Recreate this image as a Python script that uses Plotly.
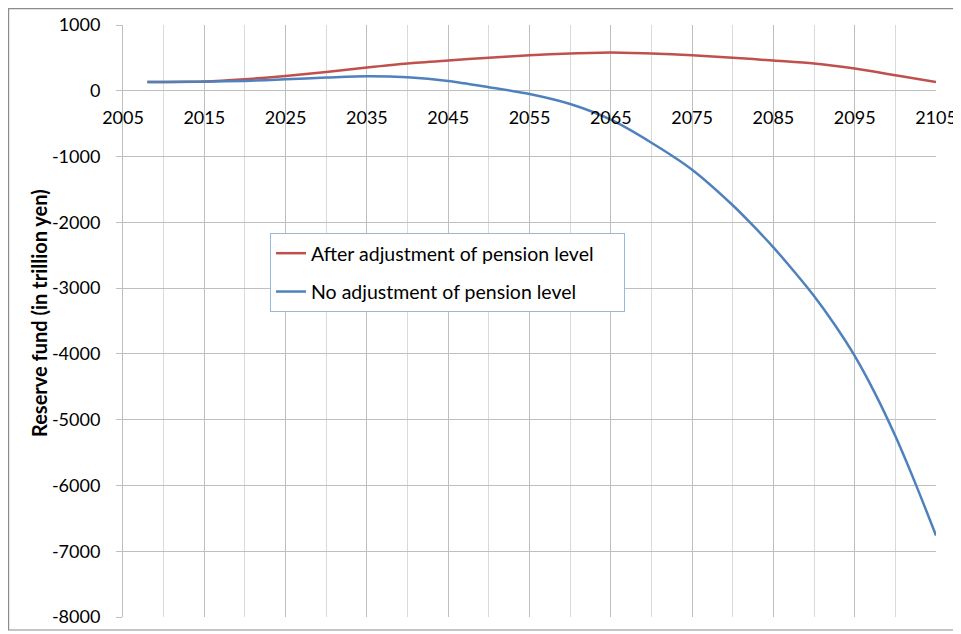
import plotly.graph_objects as go

# ---- data ----
years_after = [2008, 2010, 2015, 2020, 2025, 2030, 2035, 2040, 2045, 2050, 2055,
               2060, 2065, 2070, 2075, 2080, 2085, 2090, 2095, 2100, 2105]
fund_after = [134, 134, 140, 175, 225, 286, 353, 414, 460, 503, 540,
              566, 581, 566, 540, 503, 459, 414, 338, 236, 134]

years_none = [2008, 2010, 2015, 2020, 2025, 2030, 2035, 2040, 2045, 2050, 2055,
              2060, 2065, 2070, 2075, 2080, 2082.5, 2085, 2087.5, 2090, 2092.5,
              2095, 2097.5, 2100, 2102.5, 2105]
fund_none = [134, 134, 138, 150, 175, 200, 220, 205, 150, 55, -50,
             -202, -440, -790, -1200, -1740, -2050, -2380, -2740, -3120, -3550,
             -4030, -4600, -5250, -5980, -6760]

series_names = ["After adjustment of pension level", "No adjustment of pension level"]
x_ticks = list(range(2005, 2106, 10))
y_ticks = list(range(-8000, 1001, 1000))
y_title = "Reserve fund (in trillion yen)"

FONT = "Lato, 'Open Sans', sans-serif"
PAD = "\u00a0" * 5  # right padding inside the legend box

fig = go.Figure()
fig.add_trace(go.Scatter(x=years_after, y=fund_after, mode="lines", name=series_names[0] + PAD,
                         line=dict(color="#C0504D", width=2.5, shape="spline", smoothing=0.8),
                         legendgroup="a"))
fig.add_trace(go.Scatter(x=years_none, y=fund_none, mode="lines", name=series_names[1] + PAD,
                         line=dict(color="#4F81BD", width=2.5, shape="spline", smoothing=0.8),
                         legendgroup="b"))

# the page places the figure 8px from the window's top-left corner
OFF = 8
W, H = 961 - OFF, 634 - OFF
L, R, T, B = 123 - OFF, 936 - OFF, 25 - OFF, 617 - OFF
pw, ph = R - L, B - T

def px_x(x):
    return (x - OFF - L) / pw

def px_y(y):
    return (B - (y - OFF)) / ph

fig.update_layout(
    width=W, height=H,
    margin=dict(l=L, r=W - R, t=T, b=H - B, pad=0, autoexpand=False),
    paper_bgcolor="white", plot_bgcolor="white",
    font=dict(family=FONT, size=18, color="#000000"),
    showlegend=True,
    legend=dict(x=px_x(270), y=px_y(233), xanchor="left", yanchor="top",
                bordercolor="#9BB7D9", borderwidth=1, bgcolor="white",
                font=dict(family=FONT, size=19.5, color="#000000"),
                tracegroupgap=10, itemwidth=30),
    xaxis=dict(range=[2005, 2105], tickvals=x_ticks, ticktext=[str(v) for v in x_ticks],
               showgrid=True, gridcolor="#BFBFBF", gridwidth=1,
               minor=dict(dtick=5, tick0=2005, showgrid=True, gridcolor="#D9D9D9", gridwidth=1),
               anchor="free", position=8 / 9, showline=False, zeroline=False,
               ticks="", ticklabelstandoff=14, automargin=False,
               tickfont=dict(family=FONT, size=18)),
    yaxis=dict(range=[-8000, 1000], tickvals=y_ticks, ticktext=[str(v) for v in y_ticks],
               showgrid=True, gridcolor="#BFBFBF",
               gridwidth=1, zeroline=False, showline=True, linecolor="#BFBFBF", linewidth=1,
               ticks="outside", ticklen=6, tickcolor="#BFBFBF", ticklabelstandoff=12,
               automargin=False, tickfont=dict(family=FONT, size=18)),
    annotations=[dict(text="<b>" + y_title + "</b>", textangle=-90, xref="paper", yref="paper",
                      x=px_x(39), y=px_y(313), xanchor="center", yanchor="middle",
                      showarrow=False,
                      font=dict(family=FONT, size=20, color="#000000"))],
    shapes=[dict(type="rect", xref="paper", yref="paper",
                 x0=px_x(OFF + 0.6), x1=px_x(975), y0=px_y(630), y1=px_y(OFF + 0.6),
                 line=dict(color="#8C8C8C", width=1.2), layer="below")],
)

fig.write_html("out.html")
